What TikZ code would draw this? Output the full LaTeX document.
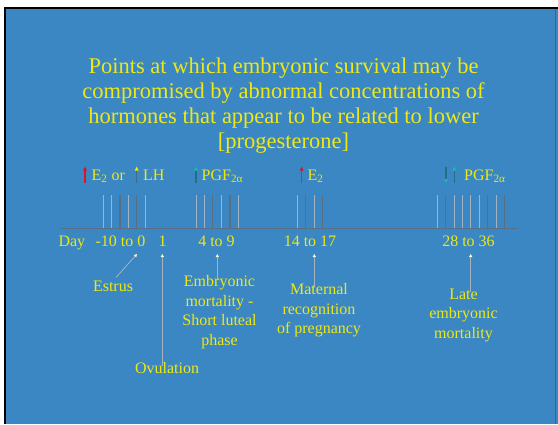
\documentclass[tikz,border=0pt]{standalone}
\usepackage{fontspec}
\setmainfont{Liberation Serif}
\usetikzlibrary{arrows.meta}

\definecolor{slideblue}{RGB}{58,135,196}
\definecolor{slideyellow}{RGB}{240,232,20}
\definecolor{ticklight}{RGB}{165,178,192}
\definecolor{tickdark}{RGB}{88,110,132}
\definecolor{hormred}{RGB}{220,20,40}
\definecolor{hormteal}{RGB}{20,190,170}
\definecolor{shaftteal}{RGB}{40,110,130}

\tikzset{
    txt/.style={text=slideyellow, inner sep=0pt},
    titleline/.style={txt, font=\fontsize{22.5}{25}\selectfont, anchor=base},
    daylabel/.style={txt, font=\fontsize{16}{19.5}\selectfont, anchor=base},
    eventlabel/.style={txt, font=\fontsize{16}{19.5}\selectfont, align=center, anchor=north},
    pointer/.style={draw=ticklight, line width=0.8pt,
        -{Triangle[length=3pt, width=3pt, color=white!85!yellow]}},
}

% x, y from, y to, shaft colour, head colour
\newcommand{\hormarrow}[5]{%
    \draw[draw=#4, line width=1.1pt, -{Triangle[length=4pt, width=3.5pt, color=#5]}] (#1,#2) -- (#1,#3);}

\begin{document}
\begin{tikzpicture}[x=1pt,y=-1pt]
    \useasboundingbox (0,0) rectangle (558,424);
    % slide frame
    \fill[white] (0,0) rectangle (558,424);
    \fill[black] (3.5,6.5) rectangle (558,424);
    \fill[slideblue] (6,9) rectangle (558,424);
    \draw[slideblue!80!black, line width=0.6pt] (555.5,9) -- (555.5,424);

    % title
    \node[titleline] (title1) at (283.5,73) {Points at which embryonic survival may be};
    \node[titleline] (title2) at (283.5,98) {compromised by abnormal concentrations of};
    \node[titleline] (title3) at (283.5,123.5) {hormones that appear to be related to lower};
    \node[titleline] (title4) at (283.5,148.5) {[progesterone]};

    % hormones
    \hormarrow{85}{183}{166.5}{hormred}{hormred}
    \hormarrow{136.7}{183}{166.5}{shaftteal!80!gray}{yellow!90!orange}
    \hormarrow{196}{183}{166.5}{shaftteal}{hormteal}
    \hormarrow{301.7}{183}{166.5}{tickdark!70!purple}{hormred}
    \hormarrow{446}{166.5}{183}{shaftteal}{hormteal}
    \hormarrow{454.3}{183}{166.5}{shaftteal}{hormteal}
    \node[daylabel, anchor=base west] (estwo) at (91.5,180) {E\textsubscript{2} or};
    \node[daylabel, anchor=base west] (lh) at (143,180) {LH};
    \node[daylabel, anchor=base west] (pgfa) at (201.5,180) {PGF\textsubscript{2α}};
    \node[daylabel, anchor=base west] (estwob) at (307.5,180) {E\textsubscript{2}};
    \node[daylabel, anchor=base west] (pgfb) at (464,180) {PGF\textsubscript{2α}};

    % time line
    \draw[tickdark, line width=1pt] (60.5,228) -- (517,228);
    \foreach \x in {103.3,111.7,128.3,145.7,196,204.3,221,238.3,297.3,314.3,437.3,454,462.3,470.7,479.3,496.3}
        \draw[ticklight, line width=0.8pt] (\x,195) -- (\x,228);
    \foreach \x in {120,136.7,212.7,230,305.7,322.7,445.7,487.7,504.7}
        \draw[tickdark, line width=1.2pt] (\x,195) -- (\x,228);

    % days
    \node[daylabel, anchor=base west] (day) at (58.3,246) {Day};
    \node[daylabel] (dayestrus) at (120.5,246) {-10 to 0};
    \node[daylabel] (dayovu) at (162.5,246) {1};
    \node[daylabel] (dayshort) at (216.5,246) {4 to 9};
    \node[daylabel] (daymrp) at (310,246) {14 to 17};
    \node[daylabel] (daylate) at (468.5,246) {28 to 36};

    \coordinate (tipestrus) at (137,254);
    \coordinate (tipovu) at (162.3,254);
    \coordinate (tipshort) at (217.3,254);
    \coordinate (tipmrp) at (314.3,254);
    \coordinate (tiplate) at (470.7,254);

    % events
    \node[eventlabel] (estrus) at (113,280.5) {Estrus};
    \node[eventlabel] (ovu) at (167,362.5) {Ovulation};
    \node[eventlabel] (short) at (219.5,275.5) {Embryonic\\mortality -\\Short luteal\\phase};
    \node[eventlabel] (mrp) at (319,283.5) {Maternal\\recognition\\of pregnancy};
    \node[eventlabel] (late) at (463.5,288.5) {Late\\embryonic\\mortality};

    \draw[pointer] ([xshift=3pt,yshift=3pt]estrus.north) -- (tipestrus);
    \draw[pointer, shorten <=-3pt] (ovu.north -| tipovu) -- (tipovu);
    \draw[pointer, shorten <=-3pt] (short.north -| tipshort) -- (tipshort);
    \draw[pointer, shorten <=-3pt] (mrp.north -| tipmrp) -- (tipmrp);
    \draw[pointer, shorten <=-3pt] (late.north -| tiplate) -- (tiplate);
\end{tikzpicture}
\end{document}
